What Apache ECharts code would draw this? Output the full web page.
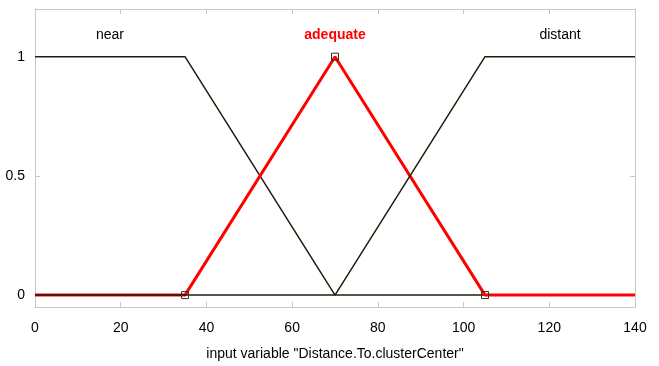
<!DOCTYPE html>
<html><head><meta charset="utf-8">
<script src="https://cdn.jsdelivr.net/npm/echarts@6/dist/echarts.min.js"></script>
<style>html,body{margin:0;padding:0;background:#fff}#c{width:659px;height:366px}</style>
</head><body><div id="c"></div>
<script>
const mfNames = ['near', 'adequate', 'distant'];
const nearPts = [[0, 1], [35, 1], [70, 0], [140, 0]];
const adequatePts = [[0, 0], [35, 0], [70, 1], [105, 0], [140, 0]];
const adequateVertices = [[35, 0], [70, 1], [105, 0]];
const distantPts = [[0, 0], [70, 0], [105, 1], [140, 1]];
const labelX = [17.5, 70, 122.5];
const labelY = 1.09;
const xTicks = [0, 20, 40, 60, 80, 100, 120, 140];
const yTicks = [0, 0.5, 1];
const xTitle = 'input variable "Distance.To.clusterCenter"';

const font = "'Liberation Sans Narrow','Liberation Sans',Arial,sans-serif";
const dark = '#1e1e0c';
const axisCol = '#c8c8c8';

const chart = echarts.init(document.getElementById('c'));
function xAx(pos, show) {
  return {
    type: 'value', position: pos, min: 0, max: 140, interval: 20,
    axisLine: { show: true, onZero: false, lineStyle: { color: axisCol, width: 1 } },
    axisTick: { show: true, inside: true, length: 5, lineStyle: { color: axisCol } },
    axisLabel: { show: show, color: '#000', fontFamily: font, fontSize: 14, margin: 14 },
    splitLine: { show: false },
    name: show ? xTitle : '', nameLocation: 'middle', nameGap: 40,
    nameTextStyle: { color: '#000', fontFamily: font, fontSize: 14 }
  };
}
function yAx(pos, show) {
  return {
    type: 'value', position: pos, min: -0.05, max: 1.2,
    axisLine: { show: true, onZero: false, lineStyle: { color: axisCol, width: 1 } },
    axisTick: { show: true, inside: true, length: 5, customValues: yTicks, lineStyle: { color: axisCol } },
    axisLabel: { show: show, customValues: yTicks, color: '#000', fontFamily: font, fontSize: 14, margin: 10 },
    splitLine: { show: false }
  };
}
chart.setOption({
  animation: false,
  backgroundColor: '#fff',
  grid: { left: 35, right: 24, top: 9, bottom: 56 },
  xAxis: [xAx('bottom', true), xAx('top', false)],
  yAxis: [yAx('left', true), yAx('right', false)],
  series: [
    { type: 'line', data: nearPts, symbol: 'none', lineStyle: { color: dark, width: 1.5 }, z: 2 },
    { type: 'line', data: adequatePts, symbol: 'none', lineStyle: { color: '#ff0000', width: 3 }, z: 3 },
    { type: 'line', data: distantPts, symbol: 'none', lineStyle: { color: dark, width: 1.5 }, z: 4 },
    { type: 'scatter', data: adequateVertices, symbol: 'rect', symbolSize: 7,
      itemStyle: { color: 'rgba(0,0,0,0)', borderColor: '#333322', borderWidth: 1, opacity: 1 }, z: 5 },
    { type: 'scatter', symbolSize: 0, z: 6, itemStyle: { opacity: 1 },
      data: mfNames.map((n, i) => ({
        value: [labelX[i], labelY], name: n,
        label: { show: true, position: 'inside', formatter: n, fontFamily: font, fontSize: 14,
          color: i === 1 ? '#ff0000' : '#000', fontWeight: i === 1 ? 'bold' : 'normal' }
      })) }
  ]
});
</script></body></html>
